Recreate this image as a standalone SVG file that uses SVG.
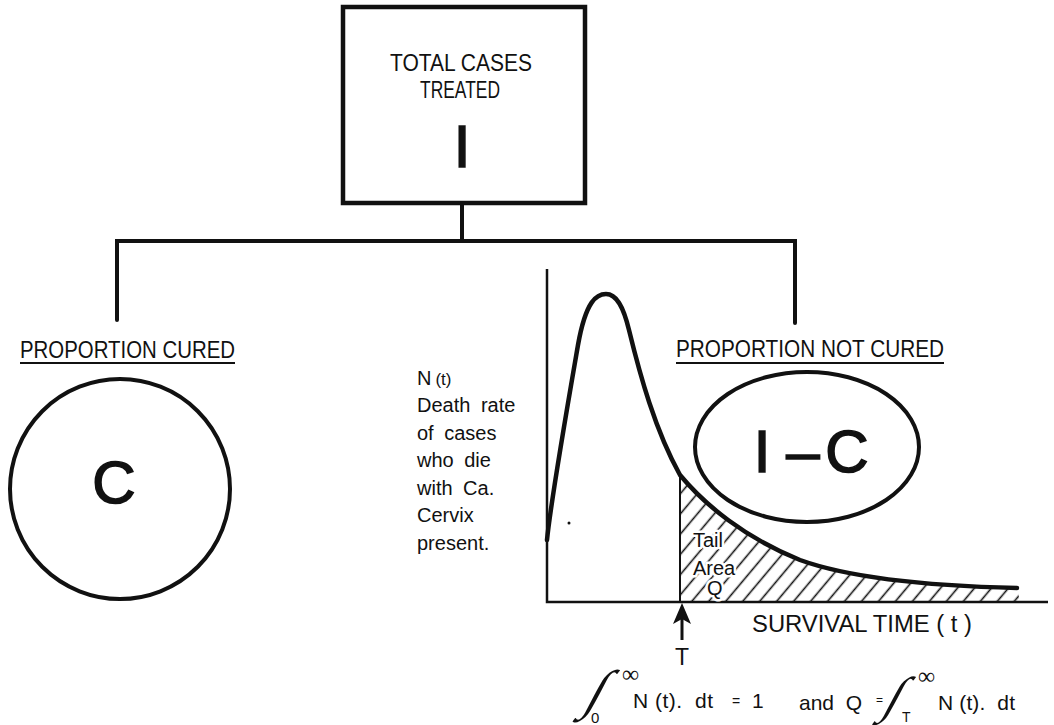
<svg xmlns="http://www.w3.org/2000/svg" width="1054" height="725" viewBox="0 0 1054 725">
  <style>
    .t { font-family: "Liberation Sans", Arial, sans-serif; fill: #111; }
    .cap { font-size: 23px; }
    .body { font-size: 20px; word-spacing: 5px; }
    .big { font-size: 60px; stroke: #111; stroke-width: 1.6; text-anchor: middle; }
    .halo { stroke: #fff; stroke-width: 5; paint-order: stroke; stroke-linejoin: round; }
    .line { fill: none; stroke: #111; stroke-width: 4; stroke-linecap: round; }
    .thin { fill: none; stroke: #111; stroke-width: 2.5; }
    .math { font-family: "Liberation Serif", "DejaVu Serif", serif; fill: #111; }
  </style>
  <defs>
    <pattern id="hatch" patternUnits="userSpaceOnUse" width="13" height="13" patternTransform="rotate(40)">
      <line x1="6.5" y1="-1" x2="6.5" y2="14" stroke="#111" stroke-width="1.6"/>
    </pattern>
  </defs>
  <rect width="1054" height="725" fill="#fff"/>

  <!-- tree connectors -->
  <g id="connectors">
    <path class="line" d="M462,203 V241"/>
    <path class="line" d="M117,320 V241 H795 V323"/>
  </g>

  <!-- root node -->
  <g id="node-total">
    <rect x="343" y="7" width="242" height="196" fill="#fff" stroke="#111" stroke-width="4.5"/>
    <text class="t cap" x="390" y="71" textLength="142" lengthAdjust="spacingAndGlyphs">TOTAL CASES</text>
    <text class="t cap" x="420" y="98" textLength="80" lengthAdjust="spacingAndGlyphs">TREATED</text>
    <text class="t big" x="462" y="167">I</text>
  </g>

  <!-- cured branch -->
  <g id="node-cured">
    <text class="t cap" x="20" y="358" textLength="215" lengthAdjust="spacingAndGlyphs">PROPORTION CURED</text>
    <line x1="20" y1="363" x2="235" y2="363" stroke="#111" stroke-width="2"/>
    <circle cx="120" cy="489" r="110" fill="none" stroke="#111" stroke-width="4"/>
    <text class="t big" x="114" y="503">C</text>
  </g>

  <!-- not cured branch -->
  <g id="node-notcured">
    <text class="t cap" x="676" y="357" textLength="268" lengthAdjust="spacingAndGlyphs">PROPORTION NOT CURED</text>
    <line x1="676" y1="363" x2="944" y2="363" stroke="#111" stroke-width="2"/>
    <ellipse cx="807" cy="447" rx="112" ry="75" fill="none" stroke="#111" stroke-width="4"/>
    <text class="t big" x="762" y="472">I</text>
    <text class="t big" x="803" y="472">–</text>
    <text class="t big" x="847" y="472">C</text>
  </g>

  <!-- death-rate curve N(t) -->
  <g id="graph">
    <path d="M680,475 C705,505 745,538 800,560 C850,578 930,586 1017,588 L1020,602 L680,602 Z" fill="url(#hatch)"/>
    <path class="thin" d="M547,269 V602 H1048"/>
    <line x1="680" y1="475" x2="680" y2="602" stroke="#111" stroke-width="2"/>
    <path d="M547,540 C551,500 565,420 578,345 C586,300 597,294 606,294 C616,294 623,305 629,330 C640,375 655,430 680,475 C705,505 745,538 800,560 C850,578 930,586 1017,588" fill="none" stroke="#111" stroke-width="4.5" stroke-linecap="round"/>
    <circle cx="569" cy="523" r="1.5" fill="#111"/>
    <text class="t body halo" x="693" y="547">Tail</text>
    <text class="t body halo" x="693" y="575">Area</text>
    <text class="t body halo" x="707" y="595">Q</text>
    <line x1="682" y1="640" x2="682" y2="615" stroke="#111" stroke-width="3"/>
    <path d="M682,603 L691,624 L682,619 L673,624 Z" fill="#111"/>
    <text class="t cap" x="682" y="665" text-anchor="middle">T</text>
    <text class="t cap" x="752" y="632" textLength="220" lengthAdjust="spacingAndGlyphs">SURVIVAL TIME ( t )</text>
  </g>

  <!-- y-axis caption -->
  <g id="axis-caption" class="t body">
    <text x="417" y="385">N<tspan font-size="17" dx="4">(t)</tspan></text>
    <text x="417" y="412">Death rate</text>
    <text x="417" y="440">of cases</text>
    <text x="417" y="467">who die</text>
    <text x="417" y="495">with Ca.</text>
    <text x="417" y="522">Cervix</text>
    <text x="417" y="550">present.</text>
  </g>

  <!-- integral relations -->
  <g id="equations">
    <text class="math" font-size="54" text-anchor="middle" transform="translate(590,708) skewX(-28)">∫</text>
    <text class="t" x="591" y="723" font-size="15">0</text>
    <text class="math" x="622" y="682" font-size="24">∞</text>
    <text class="t" x="633" y="708" font-size="21" textLength="80" lengthAdjust="spacing" xml:space="preserve">N (t).  dt</text>
    <text class="t" x="732" y="706" font-size="14">=</text>
    <text class="t" x="752" y="708" font-size="21">1</text>

    <text class="t" x="799" y="710" font-size="21" xml:space="preserve">and  Q</text>
    <text class="t" x="876" y="704" font-size="12">=</text>
    <text class="math" font-size="50" text-anchor="middle" transform="translate(888,712) skewX(-28)">∫</text>
    <text class="t" x="902" y="722" font-size="14">T</text>
    <text class="math" x="918" y="684" font-size="24">∞</text>
    <text class="t" x="938" y="710" font-size="21" textLength="77" lengthAdjust="spacing" xml:space="preserve">N (t).  dt</text>
  </g>
</svg>
